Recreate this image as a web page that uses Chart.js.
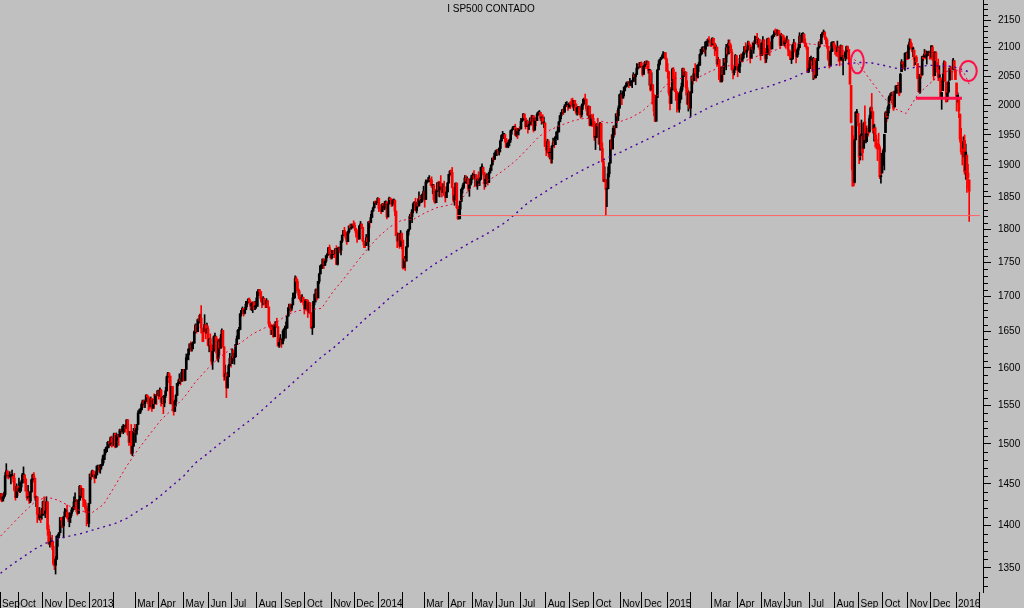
<!DOCTYPE html>
<html><head><meta charset="utf-8">
<script src="https://cdn.jsdelivr.net/npm/chart.js@4.4.1/dist/chart.umd.min.js"></script>
<style>html,body{margin:0;padding:0;background:#c0c0c0;overflow:hidden}canvas{display:block}</style>
</head><body>
<canvas id="c" width="1024" height="608"></canvas>
<script>
// Daily bars: [open, high, low, close], one array per month
const sep2012=[[1432,1438,1431,1438],[1438,1438,1428,1429],[1429,1437,1429,1434],[1434,1440,1432,1437],[1437,1464,1435,1460],[1460,1475,1460,1466],[1466,1466,1457,1461],[1461,1462,1456,1459],[1459,1465,1458,1461],[1460,1461,1450,1460],[1460,1467,1459,1460],[1459,1460,1452,1457],[1457,1463,1441,1442],[1442,1442,1430,1433],[1433,1450,1433,1447],[1447,1447,1435,1441]];
const oct2012=[[1441,1457,1441,1444],[1444,1452,1439,1446],[1446,1454,1441,1451],[1451,1463,1451,1461],[1461,1471,1456,1461],[1461,1461,1451,1456],[1456,1456,1441,1441],[1441,1442,1430,1433],[1433,1448,1432,1433],[1433,1439,1426,1429],[1429,1441,1427,1440],[1440,1456,1440,1455],[1455,1462,1453,1461],[1461,1464,1452,1457],[1457,1457,1430,1433],[1433,1435,1422,1434],[1434,1434,1403,1413],[1413,1421,1407,1409],[1409,1421,1406,1413],[1413,1418,1403,1412],[1412,1420,1407,1412]];
const nov2012=[[1412,1429,1412,1428],[1428,1434,1412,1414],[1414,1420,1409,1417],[1417,1434,1417,1428],[1428,1428,1388,1395],[1395,1400,1377,1378],[1378,1392,1374,1380],[1380,1385,1377,1380],[1380,1388,1371,1375],[1375,1381,1353,1355],[1355,1360,1348,1353],[1353,1363,1343,1360],[1360,1387,1360,1387],[1387,1389,1375,1388],[1388,1391,1385,1391],[1391,1409,1391,1409],[1409,1409,1398,1406],[1406,1409,1397,1399],[1399,1410,1385,1410],[1410,1420,1410,1416],[1416,1419,1411,1416]];
const dec2012=[[1416,1424,1408,1409],[1409,1414,1404,1407],[1407,1415,1398,1409],[1409,1414,1403,1414],[1414,1421,1411,1418],[1418,1422,1416,1419],[1419,1434,1419,1428],[1428,1439,1426,1428],[1428,1431,1416,1419],[1419,1420,1412,1414],[1414,1431,1414,1430],[1430,1448,1430,1447],[1447,1448,1435,1436],[1436,1444,1433,1444],[1444,1444,1422,1430],[1430,1431,1425,1427],[1427,1430,1415,1420],[1420,1423,1399,1418],[1418,1418,1402,1402],[1402,1426,1398,1426]];
const jan2013=[[1426,1462,1426,1462],[1462,1465,1455,1459],[1459,1467,1459,1466],[1466,1466,1457,1462],[1462,1462,1451,1457],[1457,1465,1457,1461],[1461,1472,1461,1472],[1472,1473,1467,1472],[1472,1473,1464,1471],[1471,1474,1463,1472],[1472,1474,1468,1473],[1473,1485,1473,1481],[1481,1486,1476,1486],[1486,1493,1480,1493],[1493,1496,1489,1495],[1495,1502,1490,1495],[1495,1503,1495,1503],[1503,1504,1497,1500],[1500,1509,1498,1508],[1508,1510,1496,1502],[1502,1504,1497,1498]];
const feb2013=[[1498,1514,1498,1513],[1513,1513,1495,1496],[1496,1514,1496,1511],[1511,1512,1505,1512],[1512,1512,1498,1509],[1509,1519,1509,1518],[1518,1518,1513,1517],[1517,1523,1515,1519],[1519,1525,1513,1520],[1520,1524,1515,1521],[1521,1525,1515,1520],[1520,1531,1520,1531],[1531,1531,1511,1512],[1512,1512,1498,1502],[1502,1516,1502,1516],[1516,1525,1487,1488],[1488,1499,1485,1497],[1497,1520,1497,1516],[1516,1525,1514,1515]];
const mar2013=[[1515,1520,1502,1518],[1518,1525,1512,1525],[1525,1543,1525,1540],[1540,1545,1540,1541],[1541,1546,1539,1544],[1544,1553,1544,1551],[1551,1557,1547,1556],[1556,1557,1548,1552],[1552,1557,1547,1555],[1555,1564,1555,1563],[1563,1564,1555,1561],[1561,1561,1543,1552],[1552,1558,1545,1548],[1548,1561,1548,1559],[1559,1559,1542,1546],[1546,1558,1546,1557],[1557,1565,1546,1552],[1552,1564,1552,1564],[1564,1564,1551,1563],[1563,1570,1563,1569]];
const apr2013=[[1569,1570,1558,1562],[1562,1573,1562,1570],[1570,1571,1549,1554],[1554,1562,1552,1560],[1560,1560,1539,1553],[1553,1563,1548,1563],[1563,1574,1560,1569],[1569,1589,1569,1588],[1588,1594,1587,1593],[1593,1593,1580,1589],[1589,1589,1552,1552],[1552,1575,1552,1575],[1575,1575,1543,1552],[1552,1555,1537,1542],[1542,1557,1542,1555],[1555,1564,1549,1563],[1563,1579,1563,1579],[1579,1584,1576,1579],[1579,1592,1579,1585],[1585,1586,1577,1582],[1582,1598,1582,1594],[1594,1598,1586,1598]];
const may2013=[[1598,1598,1582,1583],[1583,1598,1583,1598],[1598,1619,1598,1614],[1614,1619,1611,1618],[1618,1626,1611,1626],[1626,1633,1623,1633],[1633,1636,1623,1627],[1627,1634,1623,1634],[1634,1636,1626,1634],[1634,1651,1634,1650],[1650,1661,1648,1659],[1659,1660,1648,1650],[1650,1668,1650,1667],[1667,1673,1663,1666],[1666,1675,1662,1669],[1669,1687,1648,1655],[1655,1655,1636,1651],[1651,1651,1636,1650],[1650,1674,1650,1660],[1660,1660,1640,1648],[1648,1662,1648,1654],[1654,1658,1630,1631]];
const jun2013=[[1631,1641,1622,1640],[1640,1647,1623,1631],[1631,1632,1605,1609],[1609,1623,1598,1623],[1623,1644,1623,1643],[1643,1648,1636,1643],[1643,1643,1620,1626],[1626,1640,1610,1613],[1613,1639,1608,1636],[1636,1641,1618,1627],[1627,1646,1627,1639],[1639,1654,1639,1652],[1652,1652,1628,1629],[1629,1629,1583,1588],[1588,1604,1584,1592],[1592,1592,1560,1573],[1573,1594,1573,1588],[1588,1605,1588,1603],[1603,1620,1603,1613],[1613,1615,1601,1606]];
const jul2013=[[1606,1626,1606,1615],[1615,1625,1610,1614],[1614,1620,1605,1615],[1615,1632,1615,1632],[1632,1644,1632,1640],[1640,1653,1640,1652],[1652,1656,1640,1653],[1653,1676,1653,1675],[1675,1680,1672,1680],[1680,1685,1679,1683],[1683,1683,1672,1676],[1676,1684,1675,1681],[1681,1693,1681,1689],[1689,1693,1685,1692],[1692,1697,1691,1696],[1696,1698,1691,1692],[1692,1694,1681,1686],[1686,1691,1680,1690],[1690,1692,1677,1692],[1692,1692,1681,1685],[1685,1693,1681,1686],[1686,1698,1683,1686]];
const aug2013=[[1686,1707,1686,1707],[1707,1710,1701,1710],[1710,1710,1702,1707],[1707,1707,1693,1697],[1697,1697,1684,1691],[1691,1700,1688,1697],[1697,1698,1688,1691],[1691,1691,1684,1689],[1689,1697,1684,1694],[1694,1694,1685,1685],[1685,1685,1658,1661],[1661,1664,1655,1656],[1656,1660,1646,1646],[1646,1659,1646,1652],[1652,1660,1642,1643],[1643,1659,1643,1657],[1657,1664,1656,1664],[1664,1669,1656,1657],[1657,1657,1630,1630],[1630,1641,1628,1635],[1635,1646,1635,1638],[1638,1640,1628,1633]];
const sep2013=[[1633,1651,1633,1640],[1640,1654,1637,1653],[1653,1658,1652,1655],[1655,1664,1641,1655],[1655,1672,1655,1672],[1672,1684,1672,1684],[1684,1689,1681,1689],[1689,1689,1678,1683],[1683,1688,1680,1688],[1688,1705,1688,1698],[1698,1705,1697,1705],[1705,1730,1698,1726],[1726,1729,1719,1722],[1722,1725,1708,1710],[1710,1711,1697,1702],[1702,1708,1695,1697],[1697,1701,1691,1693],[1693,1703,1693,1699],[1699,1699,1688,1692],[1692,1692,1675,1682]];
const oct2013=[[1682,1696,1682,1695],[1695,1695,1680,1694],[1694,1695,1670,1679],[1679,1691,1677,1691],[1691,1691,1675,1676],[1676,1677,1655,1655],[1655,1663,1646,1656],[1656,1693,1656,1693],[1693,1704,1688,1703],[1703,1711,1692,1710],[1710,1711,1695,1698],[1698,1722,1698,1722],[1722,1734,1719,1733],[1733,1745,1733,1745],[1745,1747,1741,1745],[1745,1755,1741,1755],[1755,1755,1741,1746],[1746,1753,1745,1752],[1752,1760,1750,1760],[1760,1764,1757,1762],[1762,1772,1762,1772],[1772,1776,1761,1763],[1763,1769,1755,1757]];
const nov2013=[[1757,1768,1755,1762],[1762,1768,1762,1768],[1768,1768,1757,1763],[1763,1771,1763,1770],[1770,1775,1747,1747],[1747,1771,1746,1771],[1771,1773,1768,1772],[1772,1772,1764,1768],[1768,1782,1761,1782],[1782,1791,1780,1791],[1791,1798,1791,1798],[1798,1803,1791,1792],[1792,1796,1785,1788],[1788,1795,1777,1781],[1781,1797,1781,1796],[1796,1805,1794,1805],[1805,1808,1800,1802],[1802,1808,1800,1803],[1803,1808,1802,1807],[1807,1813,1806,1806]];
const dec2013=[[1806,1810,1798,1801],[1801,1801,1788,1795],[1795,1799,1780,1793],[1793,1796,1785,1785],[1785,1806,1785,1805],[1805,1812,1805,1808],[1808,1808,1801,1803],[1803,1803,1781,1782],[1782,1782,1772,1776],[1776,1781,1772,1775],[1775,1792,1775,1787],[1787,1788,1779,1781],[1781,1812,1768,1811],[1811,1813,1802,1810],[1810,1823,1810,1818],[1818,1829,1818,1828],[1828,1834,1828,1833],[1833,1843,1833,1842],[1842,1844,1839,1841],[1841,1843,1838,1841],[1841,1849,1841,1848]];
const jan2014=[[1848,1848,1827,1832],[1832,1838,1829,1831],[1831,1837,1824,1827],[1827,1840,1827,1838],[1838,1840,1831,1837],[1837,1843,1830,1838],[1838,1844,1832,1842],[1842,1843,1816,1819],[1819,1839,1819,1839],[1839,1850,1839,1848],[1848,1849,1842,1846],[1846,1847,1835,1839],[1839,1846,1836,1844],[1844,1847,1839,1845],[1845,1845,1821,1828],[1828,1828,1790,1790],[1790,1795,1772,1782],[1782,1794,1782,1793],[1793,1793,1771,1774],[1774,1798,1774,1794],[1794,1794,1770,1783]];
const feb2014=[[1783,1784,1740,1742],[1742,1759,1742,1755],[1755,1756,1738,1752],[1752,1774,1752,1773],[1773,1798,1773,1797],[1797,1800,1791,1800],[1800,1823,1800,1820],[1820,1826,1815,1819],[1819,1830,1810,1830],[1830,1841,1825,1839],[1839,1843,1835,1841],[1841,1848,1828,1829],[1829,1842,1825,1840],[1840,1847,1834,1836],[1836,1858,1836,1848],[1848,1852,1840,1845],[1845,1853,1841,1845],[1845,1855,1842,1854],[1854,1867,1847,1859]];
const mar2014=[[1859,1859,1834,1846],[1846,1877,1846,1874],[1874,1876,1872,1874],[1874,1881,1874,1877],[1877,1884,1874,1878],[1878,1878,1868,1877],[1877,1882,1865,1868],[1868,1868,1855,1868],[1868,1870,1843,1846],[1846,1852,1840,1841],[1841,1862,1841,1859],[1859,1873,1859,1872],[1872,1875,1851,1861],[1861,1874,1850,1872],[1872,1884,1865,1867],[1867,1867,1850,1857],[1857,1871,1857,1866],[1866,1875,1852,1853],[1853,1855,1842,1849],[1849,1866,1849,1858],[1858,1873,1858,1872]];
const apr2014=[[1872,1886,1872,1886],[1886,1892,1886,1891],[1891,1893,1883,1889],[1889,1897,1864,1865],[1865,1865,1842,1845],[1845,1854,1837,1852],[1852,1872,1852,1872],[1872,1872,1832,1833],[1833,1836,1815,1816],[1816,1835,1816,1831],[1831,1844,1816,1843],[1843,1863,1843,1862],[1862,1869,1856,1865],[1865,1872,1863,1872],[1872,1884,1872,1880],[1880,1884,1872,1875],[1875,1882,1871,1879],[1879,1879,1859,1863],[1863,1870,1851,1869],[1869,1880,1869,1878],[1878,1884,1872,1884]];
const may2014=[[1884,1888,1878,1884],[1884,1892,1879,1881],[1881,1885,1868,1885],[1885,1885,1866,1868],[1868,1880,1862,1878],[1878,1890,1872,1876],[1876,1880,1868,1878],[1878,1897,1878,1897],[1897,1903,1895,1897],[1897,1897,1885,1889],[1889,1889,1862,1871],[1871,1878,1866,1878],[1878,1887,1874,1885],[1885,1885,1869,1873],[1873,1889,1873,1888],[1888,1896,1888,1892],[1892,1901,1892,1901],[1901,1912,1901,1912],[1912,1915,1906,1910],[1910,1921,1910,1920],[1920,1924,1916,1924]];
const jun2014=[[1924,1925,1916,1925],[1925,1925,1918,1924],[1924,1929,1917,1928],[1928,1942,1922,1940],[1940,1950,1940,1949],[1949,1956,1948,1951],[1951,1951,1944,1951],[1951,1951,1938,1944],[1944,1944,1929,1930],[1930,1938,1930,1936],[1936,1941,1929,1938],[1938,1943,1932,1942],[1942,1958,1938,1957],[1957,1960,1951,1959],[1959,1964,1959,1963],[1963,1964,1959,1963],[1963,1968,1949,1950],[1950,1960,1947,1960],[1960,1960,1944,1957],[1957,1961,1950,1961],[1961,1964,1958,1960]];
const jul2014=[[1960,1978,1960,1973],[1973,1976,1972,1975],[1975,1986,1975,1985],[1985,1985,1975,1978],[1978,1978,1960,1964],[1964,1975,1964,1973],[1973,1973,1953,1965],[1965,1969,1959,1968],[1968,1979,1968,1977],[1977,1983,1966,1973],[1973,1983,1973,1982],[1982,1982,1955,1958],[1958,1979,1958,1978],[1978,1978,1965,1974],[1974,1987,1974,1984],[1984,1989,1983,1987],[1987,1991,1984,1988],[1988,1988,1974,1978],[1978,1982,1968,1979],[1979,1984,1969,1970],[1970,1980,1962,1970],[1970,1970,1931,1931]];
const aug2014=[[1931,1932,1916,1925],[1925,1943,1921,1939],[1939,1942,1914,1920],[1920,1928,1911,1920],[1920,1928,1904,1910],[1910,1932,1904,1932],[1932,1945,1932,1937],[1937,1940,1929,1934],[1934,1947,1934,1947],[1947,1955,1944,1955],[1955,1964,1942,1955],[1955,1972,1955,1972],[1972,1983,1972,1982],[1982,1988,1977,1987],[1987,1993,1986,1992],[1992,1994,1984,1988],[1988,2001,1988,1998],[1998,2005,1998,2000],[2000,2006,1998,2000],[2000,2000,1991,1997],[1997,2004,1995,2003]];
const sep2014=[[2003,2006,1994,2002],[2002,2011,1999,2001],[2001,2012,1995,1998],[1998,2008,1991,2008],[2008,2008,1995,2002],[2002,2002,1985,1988],[1988,1996,1983,1996],[1996,1998,1985,1997],[1997,1997,1983,1986],[1986,1987,1978,1984],[1984,2002,1980,1999],[1999,2010,1993,2002],[2002,2012,2002,2011],[2011,2019,2006,2010],[2010,2010,1990,1994],[1994,1994,1983,1983],[1983,1999,1978,1998],[1998,1998,1965,1966],[1966,1984,1966,1983],[1983,1983,1964,1978],[1978,1985,1968,1972]];
const oct2014=[[1972,1972,1941,1946],[1946,1953,1926,1946],[1946,1969,1946,1968],[1968,1978,1960,1965],[1965,1965,1935,1935],[1935,1971,1925,1969],[1969,1970,1927,1928],[1928,1937,1906,1906],[1906,1912,1874,1875],[1875,1898,1874,1878],[1878,1878,1821,1862],[1862,1876,1835,1863],[1863,1898,1863,1887],[1887,1905,1882,1904],[1904,1942,1904,1941],[1941,1950,1927,1927],[1927,1961,1927,1951],[1951,1965,1946,1965],[1965,1965,1950,1962],[1962,1986,1962,1985],[1985,1991,1971,1982],[1982,1999,1974,1995],[1995,2018,1995,2018]];
const nov2014=[[2018,2025,2012,2018],[2018,2018,2001,2012],[2012,2024,2012,2024],[2024,2031,2016,2031],[2031,2034,2025,2032],[2032,2039,2031,2038],[2038,2040,2034,2040],[2040,2040,2030,2038],[2038,2046,2034,2039],[2039,2042,2033,2040],[2040,2043,2030,2041],[2041,2056,2041,2052],[2052,2052,2040,2049],[2049,2054,2035,2053],[2053,2072,2053,2064],[2064,2071,2062,2069],[2069,2074,2064,2067],[2067,2074,2065,2073],[2073,2075,2065,2068]];
const dec2014=[[2068,2068,2050,2053],[2053,2069,2053,2067],[2067,2076,2067,2074],[2074,2077,2063,2072],[2072,2077,2070,2075],[2075,2076,2055,2060],[2060,2060,2034,2060],[2060,2061,2024,2026],[2026,2056,2026,2035],[2035,2035,2002,2002],[2002,2019,1982,1990],[1990,2017,1972,1973],[1973,2017,1973,2013],[2013,2061,2013,2061],[2061,2077,2061,2071],[2071,2079,2069,2079],[2079,2083,2078,2082],[2082,2087,2081,2082],[2082,2093,2082,2089],[2089,2091,2084,2091],[2091,2091,2080,2080],[2080,2082,2058,2059]];
const jan2015=[[2059,2072,2046,2058],[2058,2058,2017,2021],[2021,2030,1992,2003],[2003,2030,2003,2026],[2026,2064,2026,2062],[2062,2065,2038,2045],[2045,2050,2023,2028],[2028,2057,2008,2023],[2023,2023,1988,2011],[2011,2022,1992,1993],[1993,2020,1988,2019],[2019,2028,2004,2023],[2023,2038,2010,2032],[2032,2064,2026,2063],[2063,2064,2050,2052],[2052,2058,2049,2057],[2057,2057,2017,2030],[2030,2042,2001,2002],[2002,2025,1990,2021],[2021,2023,1994,1995]];
const feb2015=[[1995,2023,1981,2021],[2021,2050,2021,2050],[2050,2054,2036,2042],[2042,2063,2042,2063],[2063,2072,2047,2055],[2055,2056,2041,2047],[2047,2070,2047,2069],[2069,2074,2058,2069],[2069,2089,2069,2088],[2088,2097,2087,2097],[2097,2101,2089,2100],[2100,2101,2093,2100],[2100,2102,2090,2097],[2097,2111,2085,2110],[2110,2111,2103,2110],[2110,2116,2103,2115],[2115,2120,2109,2114],[2114,2114,2103,2111],[2111,2113,2102,2105]];
const mar2015=[[2105,2118,2105,2117],[2117,2117,2098,2108],[2108,2108,2086,2099],[2099,2105,2095,2101],[2101,2101,2067,2071],[2071,2083,2071,2079],[2079,2079,2044,2044],[2044,2051,2040,2040],[2040,2066,2040,2066],[2066,2068,2042,2053],[2053,2081,2053,2081],[2081,2081,2066,2074],[2074,2106,2061,2100],[2100,2100,2085,2089],[2089,2114,2089,2108],[2108,2114,2104,2104],[2104,2107,2091,2092],[2092,2097,2061,2061],[2061,2067,2045,2056],[2056,2063,2052,2061],[2061,2088,2061,2086],[2086,2086,2067,2068]];
const apr2015=[[2068,2068,2049,2060],[2060,2072,2058,2067],[2067,2087,2056,2081],[2081,2089,2076,2076],[2076,2088,2076,2082],[2082,2093,2080,2091],[2091,2102,2088,2102],[2102,2109,2092,2092],[2092,2097,2083,2096],[2096,2112,2096,2107],[2107,2111,2100,2105],[2105,2105,2073,2081],[2081,2101,2081,2100],[2100,2110,2097,2097],[2097,2108,2090,2108],[2108,2121,2107,2113],[2113,2120,2112,2118],[2118,2126,2106,2109],[2109,2117,2101,2115],[2115,2115,2097,2107],[2107,2107,2078,2086]];
const may2015=[[2086,2109,2086,2108],[2108,2120,2108,2114],[2114,2114,2087,2089],[2089,2099,2073,2080],[2080,2092,2074,2088],[2088,2117,2088,2116],[2116,2118,2104,2105],[2105,2105,2086,2099],[2099,2111,2096,2098],[2098,2121,2098,2121],[2121,2123,2117,2123],[2123,2131,2120,2129],[2129,2134,2124,2128],[2128,2133,2121,2126],[2126,2132,2122,2131],[2131,2131,2125,2126],[2126,2126,2099,2104],[2104,2126,2104,2123],[2123,2123,2117,2121],[2121,2122,2104,2107]];
const jun2015=[[2107,2117,2103,2112],[2112,2118,2099,2110],[2110,2121,2110,2114],[2114,2114,2086,2096],[2096,2096,2085,2093],[2093,2093,2079,2079],[2079,2086,2072,2080],[2080,2106,2080,2105],[2105,2115,2105,2109],[2109,2109,2092,2094],[2094,2094,2073,2084],[2084,2098,2083,2096],[2096,2107,2088,2100],[2100,2127,2100,2121],[2121,2121,2109,2110],[2110,2126,2110,2123],[2123,2127,2120,2124],[2124,2125,2108,2109],[2109,2116,2102,2102],[2102,2108,2097,2101],[2101,2101,2056,2058],[2058,2071,2056,2063]];
const jul2015=[[2063,2083,2063,2077],[2077,2085,2072,2077],[2077,2077,2058,2069],[2069,2083,2044,2081],[2081,2081,2045,2047],[2047,2075,2047,2051],[2051,2081,2051,2077],[2077,2100,2077,2100],[2100,2111,2099,2109],[2109,2115,2102,2107],[2107,2124,2107,2124],[2124,2127,2119,2127],[2127,2132,2123,2128],[2128,2129,2115,2119],[2119,2119,2107,2114],[2114,2116,2099,2102],[2102,2102,2077,2080],[2080,2080,2064,2068],[2068,2095,2068,2093],[2093,2110,2093,2109],[2109,2110,2094,2109],[2109,2111,2099,2104]];
const aug2015=[[2104,2105,2088,2098],[2098,2102,2085,2093],[2093,2112,2093,2100],[2100,2103,2076,2084],[2084,2084,2068,2078],[2078,2105,2078,2104],[2104,2104,2076,2084],[2084,2087,2052,2086],[2086,2093,2081,2083],[2083,2093,2077,2092],[2092,2103,2080,2102],[2102,2103,2094,2097],[2097,2097,2070,2080],[2080,2080,2036,2036],[2034,2034,1970,1971],[1965,1965,1867,1893],[1899,1949,1867,1868],[1873,1943,1872,1941],[1942,1989,1942,1988],[1986,1993,1975,1989],[1986,1986,1965,1972]];
const sep2015=[[1970,1970,1903,1914],[1916,1949,1909,1949],[1950,1975,1945,1951],[1948,1948,1909,1921],[1928,1971,1928,1969],[1972,1999,1937,1942],[1941,1965,1937,1952],[1951,1961,1939,1961],[1961,1966,1948,1953],[1955,1983,1955,1978],[1978,1997,1977,1995],[1996,2020,1980,1990],[1989,1989,1953,1958],[1961,1968,1940,1967],[1962,1962,1930,1943],[1943,1950,1927,1939],[1934,1937,1908,1932],[1935,1953,1926,1931],[1929,1932,1879,1882],[1882,1899,1872,1884],[1888,1920,1888,1920]];
const oct2015=[[1919,1927,1900,1924],[1922,1951,1893,1951],[1954,1989,1954,1987],[1987,1991,1972,1980],[1982,1999,1977,1996],[1994,2016,1987,2013],[2013,2020,2008,2015],[2015,2022,2012,2017],[2016,2023,2001,2004],[2003,2010,1991,1994],[1997,2024,1997,2024],[2025,2033,2021,2033],[2032,2034,2020,2034],[2033,2039,2026,2031],[2032,2035,2016,2019],[2022,2055,2022,2053],[2058,2079,2058,2075],[2075,2075,2066,2071],[2069,2071,2062,2066],[2066,2091,2060,2090],[2088,2092,2083,2089],[2090,2094,2079,2079]];
const nov2015=[[2081,2106,2081,2104],[2102,2116,2097,2110],[2110,2115,2099,2102],[2101,2108,2093,2100],[2098,2101,2084,2099],[2096,2096,2068,2079],[2077,2084,2070,2082],[2083,2086,2074,2075],[2072,2072,2045,2046],[2044,2044,2022,2023],[2022,2053,2020,2053],[2054,2067,2046,2050],[2052,2085,2052,2084],[2083,2087,2077,2081],[2083,2097,2083,2089],[2090,2095,2080,2087],[2085,2094,2071,2089],[2089,2093,2086,2089],[2089,2094,2086,2090],[2090,2094,2080,2080]];
const dec2015=[[2083,2104,2083,2103],[2101,2104,2077,2080],[2081,2085,2043,2050],[2051,2093,2051,2092],[2091,2093,2066,2077],[2074,2074,2057,2064],[2061,2080,2042,2048],[2048,2068,2047,2052],[2047,2047,2012,2012],[2013,2022,1993,2022],[2025,2054,2025,2043],[2047,2077,2041,2073],[2074,2076,2041,2042],[2040,2040,2005,2006],[2010,2022,2006,2021],[2023,2042,2021,2039],[2043,2064,2043,2064],[2063,2067,2058,2061],[2058,2058,2044,2057],[2061,2081,2061,2078],[2077,2077,2062,2063],[2060,2062,2044,2044]];
const jan2016=[[2038,2038,1990,2013],[2014,2021,2005,2017],[2011,2011,1979,1990],[1985,1985,1938,1943],[1946,1961,1918,1922],[1927,1935,1901,1924],[1928,1947,1914,1939],[1941,1950,1886,1890],[1892,1935,1878,1922],[1917,1917,1857,1880],[1888,1902,1864,1881],[1877,1877,1812,1859]];

const months=[sep2012,oct2012,nov2012,dec2012,jan2013,feb2013,mar2013,apr2013,may2013,jun2013,jul2013,aug2013,sep2013,oct2013,nov2013,dec2013,jan2014,feb2014,mar2014,apr2014,may2014,jun2014,jul2014,aug2014,sep2014,oct2014,nov2014,dec2014,jan2015,feb2015,mar2015,apr2015,may2015,jun2015,jul2015,aug2015,sep2015,oct2015,nov2015,dec2015,jan2016];
const monthLabels=['Sep','Oct','Nov','Dec','2013','','Mar','Apr','May','Jun','Jul','Aug','Sep','Oct','Nov','Dec','2014','','Mar','Apr','May','Jun','Jul','Aug','Sep','Oct','Nov','Dec','2015','','Mar','Apr','May','Jun','Jul','Aug','Sep','Oct','Nov','Dec','2016'];
const yTickValues=[1350,1400,1450,1500,1550,1600,1650,1700,1750,1800,1850,1900,1950,2000,2050,2100,2150];

// moving averages read every 10 trading days (last value = last bar)
const ma50=[1387,1401,1415,1428,1434,1430,1423,1417,1415,1425,1448,1472,1493,1512,1531,1545,1560,1581,1598,1613,1625,1635,1647,1655,1662,1674,1680,1681,1683,1707,1727,1749,1770,1789,1804,1814,1815,1825,1833,1837,1842,1864,1872,1881,1894,1909,1928,1948,1959,1967,1974,1978,1975,1970,1972,1979,1990,2008,2034,2046,2046,2049,2059,2067,2069,2077,2085,2091,2099,2106,2108,2106,2103,2099,2091,2067,2040,2014,1994,1986,2018,2036,2053,2062,2058,2036];
const ma200=[1344,1354,1363,1372,1379,1384,1387,1390,1394,1398,1402,1408,1417,1425,1436,1448,1460,1476,1487,1499,1510,1522,1533,1546,1560,1573,1587,1601,1615,1627,1641,1656,1671,1684,1699,1712,1724,1737,1749,1759,1770,1780,1789,1799,1810,1825,1841,1852,1864,1875,1885,1895,1904,1913,1921,1930,1939,1948,1958,1967,1978,1988,1998,2006,2014,2021,2027,2032,2039,2046,2055,2061,2066,2070,2072,2074,2073,2069,2064,2063,2066,2069,2068,2067,2061,2057];

// annotations (trading-day index, price)
const supportLevel=1821, supportDays=[397.3,854.4];
const necklineLevel=2012, necklineDays=[798.6,838.7];
const circleDays=[747.4,844.2], circleValues=[2075,2059];
const chartTitle='I SP500 CONTADO';

// ---- build ----
const bars=months.flat();
const N=bars.length;
const monthStart=[];{let s=0;for(const m of months){monthStart.push(s);s+=m.length;}}
const xTickDays=monthStart.map(s=>s-0.5).concat([854]);
const xTickLabels=monthLabels.concat(['']);
const RED='#ff0000', BLACK='#000000';
const colors=bars.map(b=>b[3]<b[0]?RED:BLACK);
const wickData=bars.map((b,i)=>({x:i,y:[b[2],b[1]]}));
const bodyData=bars.map((b,i)=>({x:i,y:[b[0],b[3]]}));
const maDays=ma50.map((v,i)=>i<ma50.length-1?i*10:N-1);
const ma50Pts=ma50.map((v,i)=>({x:maDays[i],y:v}));
const ma200Pts=ma200.map((v,i)=>({x:maDays[i],y:v}));
const supportPts=supportDays.map(d=>({x:d,y:supportLevel}));
const necklinePts=necklineDays.map(d=>({x:d,y:necklineLevel}));

const FONT="'Liberation Sans', Arial, sans-serif";
Chart.defaults.font.family=FONT;

const overlay={
  id:'overlay',
  afterDatasetsDraw(chart){
    const ctx=chart.ctx, xs=chart.scales.x, ys=chart.scales.y;
    ctx.save();
    ctx.strokeStyle='#ff1048'; ctx.lineWidth=2;
    const radii=[[6.5,11.5],[8.5,10]];
    circleDays.forEach((d,i)=>{
      ctx.beginPath();
      ctx.ellipse(xs.getPixelForValue(d),ys.getPixelForValue(circleValues[i]),radii[i][0],radii[i][1],0,0,Math.PI*2);
      ctx.stroke();
    });
    ctx.restore();
  },
  afterDraw(chart){
    const ctx=chart.ctx, ys=chart.scales.y;
    ctx.save();
    ctx.strokeStyle='#000'; ctx.lineWidth=1;
    ctx.beginPath();
    for(let v=1330; v<=2180; v+=10){
      if(v%50===0) continue;
      const y=Math.round(ys.getPixelForValue(v))+0.5;
      ctx.moveTo(ys.left,y); ctx.lineTo(ys.left+5,y);
    }
    ctx.stroke();
    ctx.fillStyle='#000'; ctx.font='10px '+FONT; ctx.textAlign='center'; ctx.textBaseline='middle';
    ctx.fillText(chartTitle,491,9);
    ctx.restore();
  }
};

new Chart(document.getElementById('c'),{
  type:'bar',
  data:{datasets:[
    {type:'line',data:supportPts,borderColor:'#ff6464',borderWidth:1,pointRadius:0,order:0},
    {type:'line',data:necklinePts,borderColor:'#ff1048',borderWidth:3,pointRadius:0,order:0},
    {type:'line',data:ma50Pts,borderColor:'#f00030',borderWidth:1,borderDash:[2,3],pointRadius:0,order:1},
    {type:'line',data:ma200Pts,borderColor:'#4b00a0',borderWidth:1.4,borderDash:[2,4],pointRadius:0,order:1},
    {type:'bar',data:bodyData,backgroundColor:colors,barThickness:2,grouped:false,minBarLength:1,borderWidth:0,order:2},
    {type:'bar',data:wickData,backgroundColor:colors,barThickness:1,grouped:false,minBarLength:1,borderWidth:0,order:3}
  ]},
  options:{
    responsive:false,animation:false,events:[],devicePixelRatio:1,
    layout:{padding:0},
    plugins:{legend:{display:false},tooltip:{enabled:false},title:{display:false}},
    scales:{
      x:{type:'linear',position:'bottom',min:-0.5,max:857.05,bounds:'data',offset:false,
        grid:{display:true,drawOnChartArea:false,drawTicks:true,tickLength:16,tickColor:'#000',offset:false},
        border:{display:false},
        ticks:{autoSkip:false,maxRotation:0,minRotation:0,align:'start',labelOffset:2,padding:-10,color:'#000',font:{size:10},
          callback:(v,i)=>xTickLabels[i]},
        afterBuildTicks:s=>{s.ticks=xTickDays.map(v=>({value:v}));},
        afterFit:s=>{s.height=16;s.paddingLeft=0;s.paddingRight=0;}
      },
      y:{type:'logarithmic',position:'right',min:1322.7,max:2186.9,bounds:'data',
        grid:{drawOnChartArea:false,drawTicks:true,tickLength:8,tickColor:'#000'},
        border:{display:true,color:'#000'},
        ticks:{padding:7,color:'#000',font:{size:10},callback:v=>String(v)},
        afterBuildTicks:s=>{s.ticks=yTickValues.map(v=>({value:v}));},
        afterFit:s=>{s.width=41;s.paddingTop=0;s.paddingBottom=0;}
      }
    }
  },
  plugins:[overlay]
});
</script>
</body></html>
